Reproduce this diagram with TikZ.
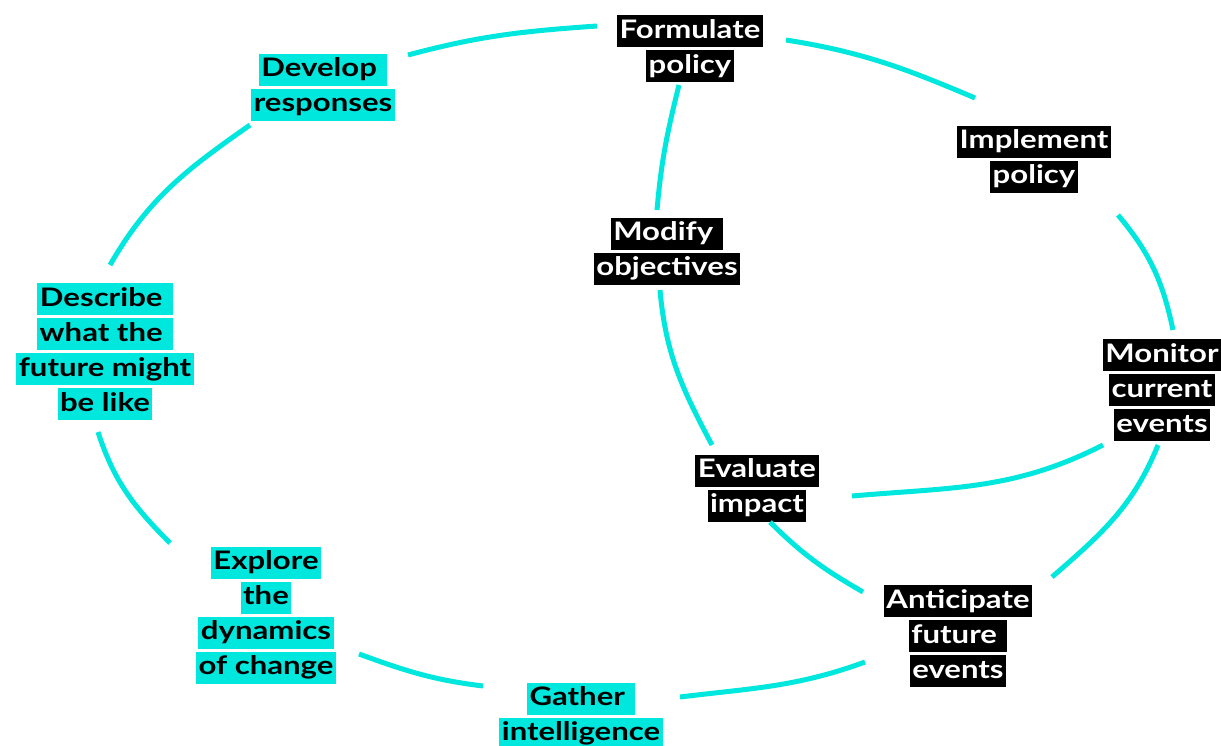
\documentclass[tikz,border=0pt]{standalone}
\usepackage{fontspec}
\setmainfont{Lato}[FakeStretch=1.22]

\definecolor{loopcyan}{RGB}{0,232,222}
\newcommand{\hlline}[1]{{\setlength{\fboxsep}{0pt}\colorbox{hlbg}{\rule[-9pt]{0pt}{32pt}\hspace{2.5pt}#1\hspace{2.5pt}}}}

\begin{document}
\begin{tikzpicture}[x=1pt,y=1pt,
  lbl/.style={inner sep=0pt,align=center,font=\bfseries\fontsize{25.5}{35}\selectfont},
  cyanlbl/.style={lbl,text=black,execute at begin node={\colorlet{hlbg}{loopcyan}}},
  darklbl/.style={lbl,text=white,execute at begin node={\colorlet{hlbg}{black}}},
  cycleline/.style={draw=loopcyan,line width=5pt}]
\useasboundingbox (0,0) rectangle (1221,-745);

\node[darklbl] (form) at (690,-48.5) {\hlline{Formulate}\\\hlline{policy}};
\node[cyanlbl] (dev) at (323,-87) {\hlline{Develop\ }\\\hlline{responses}};
\node[cyanlbl] (desc) at (105,-351.5) {\hlline{Describe\ }\\\hlline{what the\ }\\\hlline{future might}\\\hlline{be like}};
\node[cyanlbl] (expl) at (266,-615) {\hlline{Explore}\\\hlline{the}\\\hlline{dynamics}\\\hlline{of change}};
\node[cyanlbl] (gath) at (581,-716) {\hlline{Gather\ }\\\hlline{intelligence}};
\node[darklbl] (antic) at (958,-636) {\hlline{Anticipate}\\\hlline{future\ }\\\hlline{events}};
\node[darklbl] (eval) at (757,-488) {\hlline{Evaluate}\\\hlline{impact}};
\node[darklbl] (modi) at (667,-251) {\hlline{Modify\ }\\\hlline{objectives}};
\node[darklbl] (impl) at (1034,-159) {\hlline{Implement}\\\hlline{policy}};
\node[darklbl] (moni) at (1162,-390) {\hlline{Monitor}\\\hlline{current}\\\hlline{events}};

% outer loop
\draw[cycleline] ([shift={(-93,22.5)}]form.center) to[out=184,in=15] ([shift={(85,32)}]dev.center);
\draw[cycleline] ([shift={(-73,-38)}]dev.center) to[out=215,in=60] ([shift={(5,86.5)}]desc.center);
\draw[cycleline] ([shift={(-7,-80.5)}]desc.center) to[out=288,in=135] ([shift={(-96,72)}]expl.center);
\draw[cycleline] ([shift={(93,-39)}]expl.center) to[out=-20,in=173] ([shift={(-98,30)}]gath.center);
\draw[cycleline] ([shift={(99,19)}]gath.center) to[out=7,in=200] ([shift={(-93,-26)}]antic.center);
\draw[cycleline] ([shift={(-95,44)}]antic.center) to[out=150,in=-45] ([shift={(13,-34)}]eval.center);
\draw[cycleline] ([shift={(-45,43)}]eval.center) to[out=118,in=-85] ([shift={(-7,-39)}]modi.center);
\draw[cycleline] ([shift={(-10,41)}]modi.center) to[out=85,in=256] ([shift={(-11,-36.5)}]form.center);
% inner loop
\draw[cycleline] ([shift={(96,8.5)}]form.center) to[out=-9,in=157] ([shift={(-59,61)}]impl.center);
\draw[cycleline] ([shift={(84,-56)}]impl.center) to[out=-50,in=102] ([shift={(11,60)}]moni.center);
\draw[cycleline] ([shift={(-59,-55)}]moni.center) to[out=207,in=5] ([shift={(95,-8)}]eval.center);
\draw[cycleline] ([shift={(-4,-55)}]moni.center) to[out=248,in=41] ([shift={(94,59)}]antic.center);
\end{tikzpicture}
\end{document}
